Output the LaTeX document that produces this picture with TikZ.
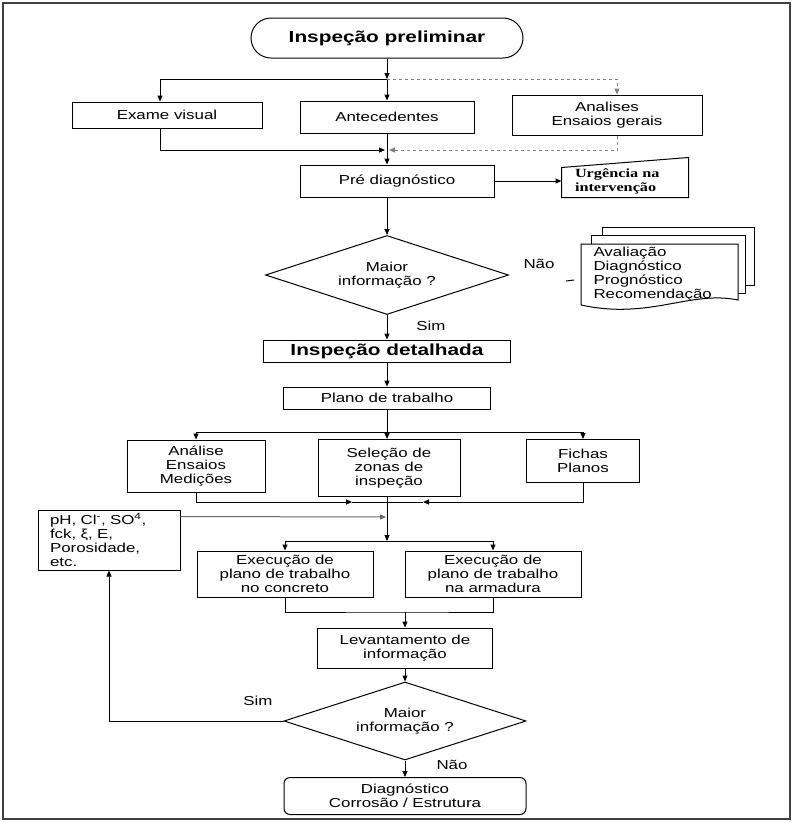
\documentclass[tikz,border=0pt]{standalone}
\usepackage{fontspec}
\setmainfont{Liberation Sans}[FakeStretch=1.3]
\newfontfamily\urgfont{Liberation Serif}[FakeStretch=1.3]
\usetikzlibrary{arrows.meta,shapes.geometric,calc}
\begin{document}
\begin{tikzpicture}[x=1pt,y=-1pt,line width=1pt,
  >={Triangle[length=6pt,width=5pt]},
  txt/.style={font=\fontsize{13}{14}\selectfont},
  titl/.style={font=\fontsize{16}{18}\selectfont\bfseries},
  box/.style={draw,rectangle,align=center,inner sep=0pt,txt},
  lab/.style={inner sep=1pt,txt},
  dec/.style={draw,diamond,aspect=3.1,inner sep=0pt,align=center,txt}]
\useasboundingbox (0,0) rectangle (793,823);
\draw[line width=2pt,black!75] (3,3) rectangle (790,819);

% top part
\node[draw,rectangle,rounded corners=20pt,minimum width=272pt,minimum height=40pt,titl] (term) at (387,38) {Inspeção preliminar};
\node[box,minimum width=190pt,minimum height=26pt] (exame) at (167,115) {Exame visual};
\node[box,minimum width=174pt,minimum height=32pt] (ante) at (387,117) {Antecedentes};
\node[box,minimum width=190pt,minimum height=40pt] (anal) at (607,115) {Analises\\Ensaios gerais};
\coordinate (j1) at (387,79);
\coordinate (j2) at (387,150);
\draw[->] (term.south) -- (j1);
\draw[->] (j1) -- (ante.north);
\draw[->] (j1) -| ($(exame.north)+(-7,0)$);
\draw[->,dashed,gray] (j1) -| ($(anal.north)+(10,0)$);
\draw[->] ($(exame.south)+(-7,0)$) |- ($(j2)+(-2,0)$);
\draw[->,dashed,gray] ($(anal.south)+(10,0)$) |- ($(j2)+(2,0)$);

\node[box,minimum width=194pt,minimum height=32pt] (pre) at (397,181) {Pré diagnóstico};
\draw[->] (ante.south) -- (ante.south |- pre.north);

\node[inner sep=0pt,minimum width=126pt,minimum height=32pt,text width=100pt,align=left,font=\urgfont\fontsize{12.5}{14}\selectfont\bfseries] (urg) at (625,181) {Urgência na\\intervenção};
\draw (urg.south west) -- (urg.south east) -- ($(urg.north east)+(0,-7)$) -- ($(urg.north west)+(0,3)$) -- cycle;
\draw[->] (pre.east) -- (urg.west);

\node[dec,minimum width=243pt,minimum height=79pt] (d1) at (387,275) {Maior\\informação ?};
\draw[->] (d1.north |- pre.south) -- (d1.north);
\node[lab] (nao1) at (539,264) {Não};

% document stack
\draw[fill=white] (602,227) rectangle (754,285);
\draw[fill=white] (591,235) rectangle (745,293);
\draw[fill=white] (581,244) -- (738,244) -- (738,300) .. controls (690,290) and (650,320) .. (581,305) -- cycle;
\node[anchor=west,align=left,inner sep=0pt,txt] (docs) at (593,274) {Avaliação\\Diagnóstico\\Prognóstico\\Recomendação};
\coordinate (stub1) at (566,281);
\coordinate (stub2) at (574,280);
\draw (stub1) -- (stub2);

\node[lab] (sim1) at (431,326) {Sim};
\node[box,minimum width=247pt,minimum height=22pt,titl] (idet) at (387,351) {Inspeção detalhada};
\draw[->] (d1.south) -- (idet.north);
\node[box,minimum width=207pt,minimum height=22pt] (plano) at (387,398) {Plano de trabalho};
\draw[->] (idet.south) -- (plano.north);

% three boxes
\node[box,minimum width=138pt,minimum height=52pt] (ana) at (196,466) {Análise\\Ensaios\\Medições};
\node[box,minimum width=142pt,minimum height=57pt] (sel) at (389,468) {Seleção de\\zonas de\\inspeção};
\node[box,minimum width=113pt,minimum height=43pt] (fic) at (583,461) {Fichas\\Planos};
\coordinate (j3) at (387,432);
\draw (plano.south) -- (j3);
\draw[->] (j3) -| (ana.north);
\draw[->] (j3) -- (j3 |- sel.north);
\draw[->] (j3) -| (fic.north);
\coordinate (j4) at (387,502);
\coordinate (a4) at (352,502);
\coordinate (b4) at (423,502);
\draw[->] (ana.south) |- (a4);
\draw (a4) -- (j4);
\draw[->] (fic.south) |- (b4);
\draw (b4) -- (j4);

% pH box
\node[box,minimum width=142pt,minimum height=60pt,text width=118pt,align=left] (ph) at (109,540) {pH, Cl\textsuperscript{-}, SO\textsuperscript{4},\\fck, ξ, E,\\Porosidade,\\etc.};
\coordinate (j6) at (387,517);
\draw[->,black!60] ($(ph.north east)+(0,7)$) -- ($(j6)+(-1,0)$);

\coordinate (j5) at (387,541);
\draw[->] (j3 |- sel.south) -- (j5);
\node[box,minimum width=176pt,minimum height=46pt] (ex1) at (285,574) {Execução de\\plano de trabalho\\no concreto};
\node[box,minimum width=176pt,minimum height=46pt] (ex2) at (493,574) {Execução de\\plano de trabalho\\na armadura};
\draw[->] (j5) -| (ex1.north);
\draw[->] (j5) -| (ex2.north);
\coordinate (j7) at (405,612);
\draw (ex1.south) |- (j7) -| (ex2.south);
\node[box,minimum width=175pt,minimum height=40pt] (lev) at (405,648) {Levantamento de\\informação};
\draw[->] (j7) -- (lev.north);

\node[dec,minimum width=242pt,minimum height=78pt] (d2) at (405,721) {Maior\\informação ?};
\draw[->] (lev.south) -- (d2.north);
\draw[->] (d2.west) -| (ph.south);
\node[lab] (sim2) at (258,701) {Sim};
\node[box,rounded corners=6pt,minimum width=242pt,minimum height=37pt] (diag) at (405,796) {Diagnóstico\\Corrosão / Estrutura};
\draw[->] (d2.south) -- (diag.north);
\node[lab] (nao2) at (452,765) {Não};
\end{tikzpicture}
\end{document}
